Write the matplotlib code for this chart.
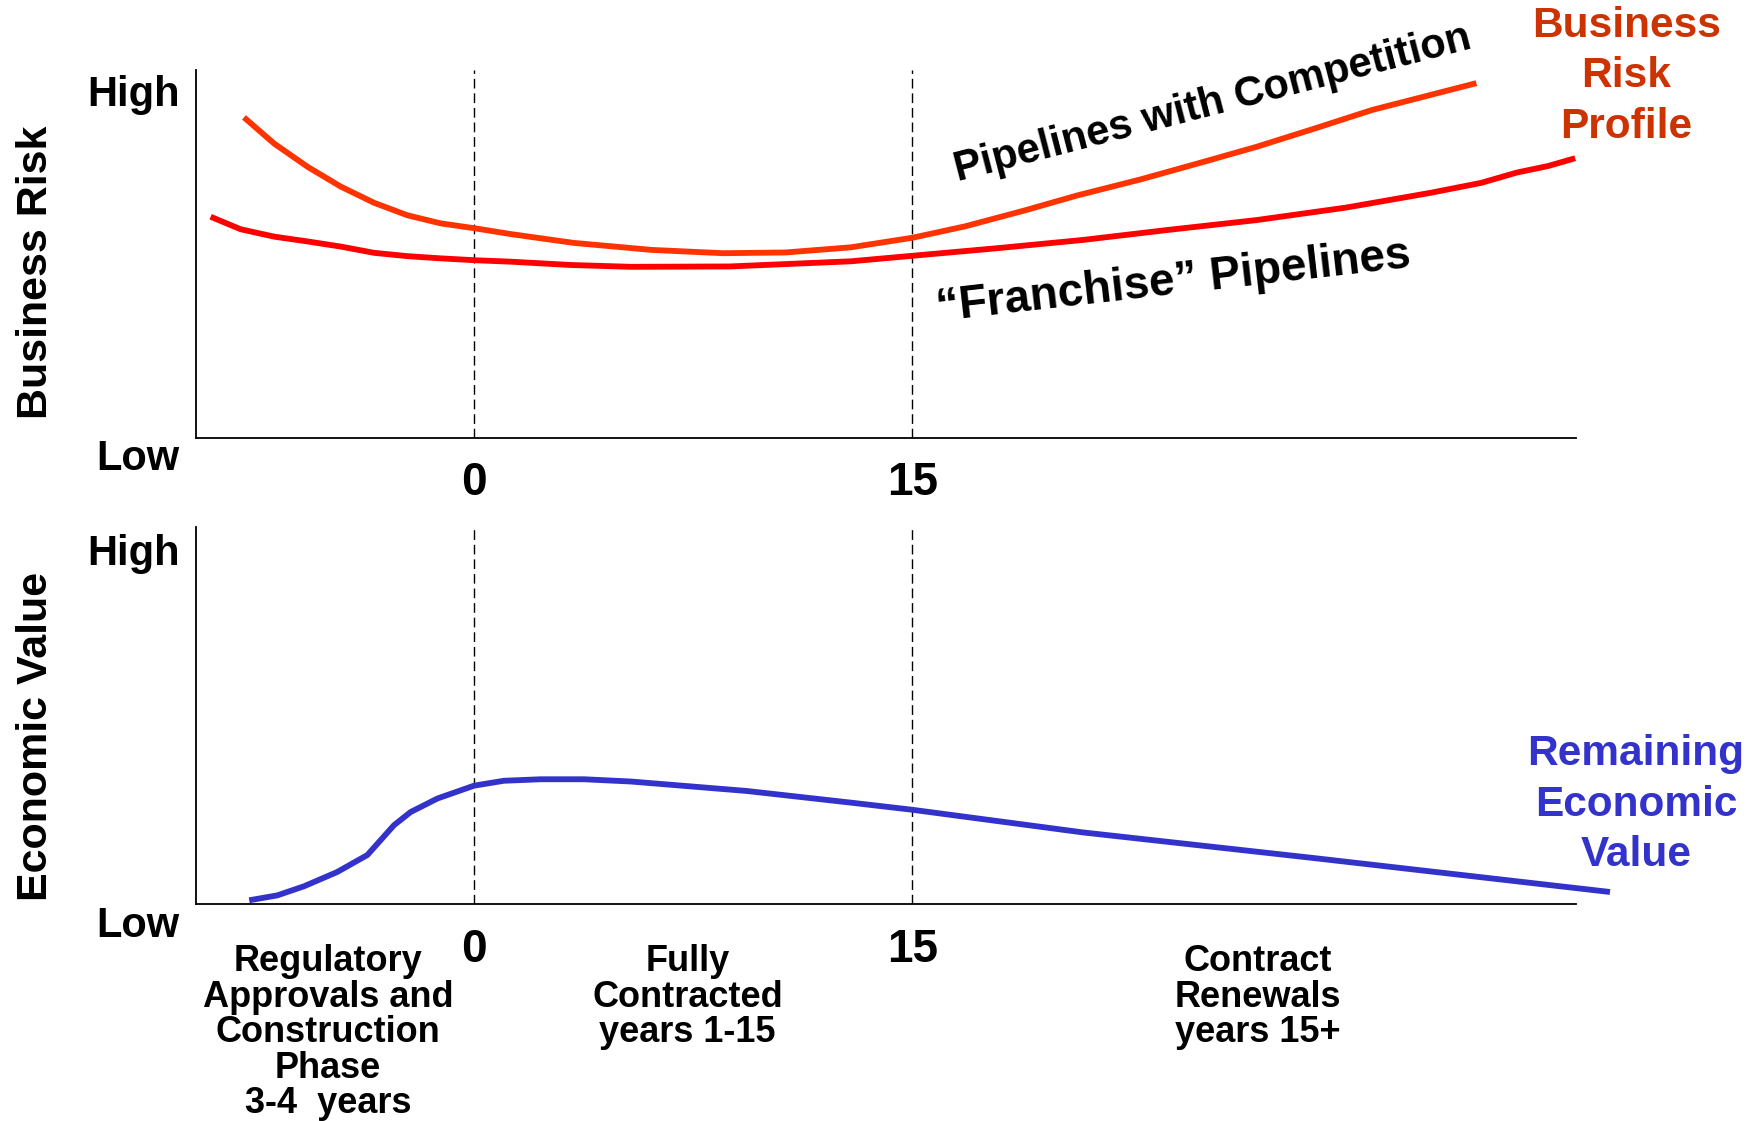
import matplotlib
matplotlib.use("Agg")
import matplotlib.pyplot as plt

plt.rcParams['font.family'] = ['Liberation Sans', 'DejaVu Sans']
plt.rcParams['font.weight'] = 'bold'

# years relative to in-service date, risk/value on a 0 (low) .. 1 (high) scale
comp_x = [-7.87, -6.84, -5.70, -4.56, -3.42, -2.28, -1.14, 0.0, 1.25, 3.41, 6.06, 8.52,
          10.66, 12.89, 15.0, 16.80, 18.83, 20.64, 22.78, 24.86, 26.77, 28.69, 30.72, 32.53, 34.29]
comp_y = [0.870, 0.799, 0.736, 0.682, 0.638, 0.604, 0.582, 0.569, 0.553, 0.529, 0.510, 0.501,
          0.503, 0.517, 0.543, 0.574, 0.617, 0.658, 0.701, 0.747, 0.790, 0.838, 0.890, 0.927, 0.963]

fran_x = [-9.01, -7.98, -6.84, -5.70, -4.56, -3.42, -2.28, -1.14, 0.0, 1.25, 3.30, 5.37, 8.75,
          12.89, 15.0, 17.95, 20.83, 23.71, 26.77, 29.84, 32.72, 34.45, 35.67, 36.75, 37.67]
fran_y = [0.600, 0.566, 0.546, 0.533, 0.519, 0.502, 0.493, 0.487, 0.482, 0.478, 0.469, 0.464, 0.465,
          0.479, 0.494, 0.515, 0.537, 0.564, 0.591, 0.625, 0.665, 0.692, 0.720, 0.738, 0.759]

value_x = [-7.69, -6.73, -5.82, -4.68, -3.65, -3.20, -2.74, -2.17, -1.25, 0.0, 1.02, 2.28,
           3.76, 5.37, 9.32, 12.89, 15.0, 20.83, 28.73, 38.86]
value_y = [0.011, 0.024, 0.048, 0.086, 0.131, 0.170, 0.210, 0.245, 0.281, 0.315, 0.328, 0.332,
           0.332, 0.326, 0.301, 0.270, 0.251, 0.191, 0.123, 0.033]

milestones = [0, 15]
milestone_labels = ['0', '15']

phase_x = [-5.0, 7.3, 26.8]
phase_labels = ['Regulatory\nApprovals and\nConstruction\nPhase\n3-4  years',
                'Fully\nContracted\nyears 1-15',
                'Contract\nRenewals\nyears 15+']

fig = plt.figure(figsize=(17.59, 11.21), dpi=100)
ax1 = fig.add_axes([0.1116, 0.6096, 0.7844, 0.3284])
ax2 = fig.add_axes([0.1116, 0.1932, 0.7844, 0.3363])

for ax in (ax1, ax2):
    ax.set_xlim(-9.5, 37.7)
    ax.set_ylim(0, 1)
    ax.spines['top'].set_visible(False)
    ax.spines['right'].set_visible(False)
    ax.spines['left'].set_linewidth(1.3)
    ax.spines['bottom'].set_linewidth(1.3)
    ax.set_yticks([])
    ax.set_xticks(milestones)
    ax.set_xticklabels(milestone_labels, fontsize=33, fontweight='bold')
    ax.tick_params(axis='x', length=0, pad=17)
    for m in milestones:
        ax.axvline(m, color='black', lw=1.0, ls=(0, (7, 3.5)))
    ax.text(-0.012, 0.93, 'High', transform=ax.transAxes, ha='right', va='center', fontsize=30)
    ax.text(-0.012, -0.058, 'Low', transform=ax.transAxes, ha='right', va='center', fontsize=30)

line_kw = dict(lw=4.2, solid_capstyle='butt', solid_joinstyle='round')
ax1.plot(comp_x, comp_y, color='#FF3300', **line_kw)
ax1.plot(fran_x, fran_y, color='#FF0000', **line_kw)
ax2.plot(value_x, value_y, color='#3333CC', clip_on=False, **line_kw)

fig.text(0.0205, 0.7568, 'Business Risk', rotation=90, ha='center', va='center', fontsize=31)
fig.text(0.0205, 0.3433, 'Economic Value', rotation=90, ha='center', va='center', fontsize=31)

fig.text(0.6895, 0.9069, 'Pipelines with Competition', rotation=14.5, rotation_mode='anchor',
         ha='center', va='center', fontsize=30)
fig.text(0.6673, 0.7487, '\u201cFranchise\u201d Pipelines', rotation=6.5, rotation_mode='anchor',
         ha='center', va='center', fontsize=33)

fig.text(0.9247, 0.932, 'Business\nRisk\nProfile', color='#CC3300', ha='center', va='center',
         fontsize=30.5, linespacing=1.34)
fig.text(0.930, 0.2823, 'Remaining\nEconomic\nValue', color='#3333CC', ha='center', va='center',
         fontsize=30.5, linespacing=1.34)

for px, lab in zip(phase_x, phase_labels):
    ax2.text(px, -0.105, lab, ha='center', va='top', fontsize=26, linespacing=1.02)

fig.savefig('out.png', dpi=100)
